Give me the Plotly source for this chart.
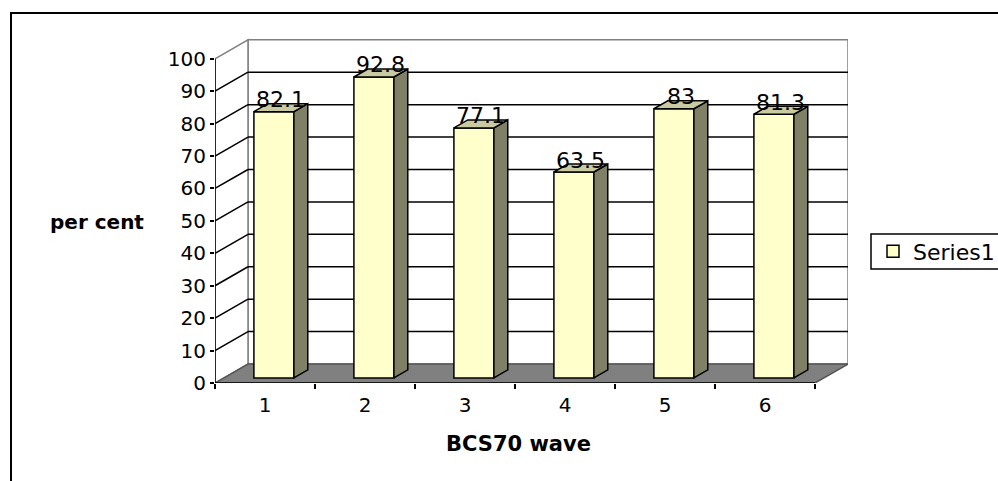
import plotly.graph_objects as go

# Data
waves = [1, 2, 3, 4, 5, 6]
wave_labels = ["1", "2", "3", "4", "5", "6"]
per_cent = [82.1, 92.8, 77.1, 63.5, 83, 81.3]
value_ticks = [0, 10, 20, 30, 40, 50, 60, 70, 80, 90, 100]
series_name = "Series1"

# Oblique 3-D projection: depth z in [0, 1] shifts x (category units) and y (value units)
DX = 0.33
DY = 5.85
Z0, Z1 = 0.27, 0.69       # bar front / back depth
HALF_W = 0.2              # half bar width, category units
X_LO, X_HI = 0.5, 6.5     # category axis extent (front plane)
Y_TOP = 100

FRONT = "#FFFFCC"
SIDE = "#808066"
TOP = "#CACAA2"
WALL_EDGE = "#808080"

# plot-area pixel frame, used to place paper-referenced items
PL, PR, PT, PB = 215, 848, 38, 383


def px_x(px):
    return (px - PL) / (PR - PL)


def px_y(py):
    return (PB - py) / (PB - PT)


fig = go.Figure()

# Side and top faces of the bars
side_x, side_y, top_x, top_y = [], [], [], []
for c, v in zip(waves, per_cent):
    xr0 = c + HALF_W + Z0 * DX
    xr1 = c + HALF_W + Z1 * DX
    xl0 = c - HALF_W + Z0 * DX
    xl1 = c - HALF_W + Z1 * DX
    side_x += [xr0, xr0, xr1, xr1, xr0, None]
    side_y += [Z0 * DY, v + Z0 * DY, v + Z1 * DY, Z1 * DY, Z0 * DY, None]
    top_x += [xl0, xr0, xr1, xl1, xl0, None]
    top_y += [v + Z0 * DY, v + Z0 * DY, v + Z1 * DY, v + Z1 * DY, v + Z0 * DY, None]

# Front faces as a real bar trace
fig.add_trace(go.Bar(
    x=[c + Z0 * DX for c in waves], y=per_cent, base=[Z0 * DY] * len(waves),
    width=2 * HALF_W, name=series_name,
    marker=dict(color=FRONT, line=dict(color="black", width=1.5)),
    hoverinfo="skip",
))
fig.add_trace(go.Scatter(
    x=side_x, y=side_y, mode="lines", fill="toself", fillcolor=SIDE,
    line=dict(color="black", width=1.5), showlegend=False, hoverinfo="skip",
))
fig.add_trace(go.Scatter(
    x=top_x, y=top_y, mode="lines", fill="toself", fillcolor=TOP,
    line=dict(color="black", width=1.5), showlegend=False, hoverinfo="skip",
))

shapes = []
# Back wall
shapes.append(dict(type="rect", xref="x", yref="y", layer="below",
                   x0=X_LO + DX, x1=X_HI + DX, y0=DY, y1=Y_TOP + DY,
                   fillcolor="white", line=dict(color=WALL_EDGE, width=1.5)))
# Left side wall
shapes.append(dict(type="path", xref="x", yref="y", layer="below",
                   path=f"M{X_LO},0 L{X_LO + DX},{DY} L{X_LO + DX},{Y_TOP + DY} L{X_LO},{Y_TOP} Z",
                   fillcolor="white", line=dict(color=WALL_EDGE, width=1.5)))
# Gridlines on back and side walls
for t in value_ticks[1:-1]:
    shapes.append(dict(type="line", xref="x", yref="y", layer="below",
                       x0=X_LO + DX, x1=X_HI + DX, y0=t + DY, y1=t + DY,
                       line=dict(color="black", width=1.5)))
    shapes.append(dict(type="line", xref="x", yref="y", layer="below",
                       x0=X_LO, x1=X_LO + DX, y0=t, y1=t + DY,
                       line=dict(color="black", width=1.5)))
# Floor
shapes.append(dict(type="path", xref="x", yref="y", layer="below",
                   path=f"M{X_LO},0 L{X_HI},0 L{X_HI + DX},{DY} L{X_LO + DX},{DY} Z",
                   fillcolor="#808080", line=dict(color="#555555", width=1.5)))
# Front axis lines
shapes.append(dict(type="line", xref="x", yref="y", layer="below",
                   x0=X_LO, x1=X_LO, y0=0, y1=Y_TOP, line=dict(color="black", width=1.5)))
shapes.append(dict(type="line", xref="x", yref="y", layer="below",
                   x0=X_LO, x1=X_HI, y0=0, y1=0, line=dict(color="black", width=1.5)))

# Outer chart-area frame (runs past the right and bottom page edges)
shapes.append(dict(type="rect", xref="paper", yref="paper",
                   x0=px_x(11), x1=px_x(1012), y0=px_y(13), y1=px_y(495),
                   line=dict(color="black", width=2)))
# Legend frame (also runs past the right page edge)
shapes.append(dict(type="rect", xref="paper", yref="paper",
                   x0=px_x(871), x1=px_x(1012), y0=px_y(234), y1=px_y(269),
                   line=dict(color="black", width=1.5)))

# Value labels on the bar tops
annotations = []
for c, v in zip(waves, per_cent):
    zc = (Z0 + Z1) / 2
    annotations.append(dict(x=c + zc * DX, y=v + zc * DY, xref="x", yref="y",
                            text=f"{v:g}", showarrow=False, yshift=8,
                            font=dict(family="DejaVu Sans", size=22, color="black")))
annotations.append(dict(x=px_x(145.5), y=px_y(221.5), xref="paper", yref="paper",
                        text="<b>per cent</b>", showarrow=False,
                        xanchor="right", yanchor="middle",
                        font=dict(family="DejaVu Sans", size=20, color="black")))
annotations.append(dict(x=px_x(518.5), y=px_y(444), xref="paper", yref="paper",
                        text="<b>BCS70 wave</b>", showarrow=False,
                        xanchor="center", yanchor="middle",
                        font=dict(family="DejaVu Sans", size=21, color="black")))

fig.update_layout(
    width=998, height=481,
    margin=dict(l=PL, r=998 - PR, t=PT, b=481 - PB, autoexpand=False),
    paper_bgcolor="white", plot_bgcolor="rgba(0,0,0,0)",
    shapes=shapes, annotations=annotations,
    showlegend=True,
    legend=dict(x=px_x(873), y=px_y(251.5), xanchor="left", yanchor="middle",
                borderwidth=0, bgcolor="rgba(0,0,0,0)",
                font=dict(family="DejaVu Sans", size=22, color="black")),
    xaxis=dict(range=[X_LO, X_HI + DX], tickvals=waves, ticktext=wave_labels,
               ticks="", showgrid=False, zeroline=False, showline=False,
               ticklabelstandoff=8,
               tickfont=dict(family="DejaVu Sans", size=20, color="black"),
               minor=dict(tick0=0.5, dtick=1, ticks="outside", ticklen=5,
                          tickcolor="black", tickwidth=1.5, showgrid=False),
               fixedrange=True),
    yaxis=dict(range=[0, 106.4], tickvals=value_ticks, ticks="outside", ticklen=4,
               tickcolor="black", tickwidth=1.5, showgrid=False, zeroline=False,
               showline=False,
               tickfont=dict(family="DejaVu Sans", size=20, color="black"),
               fixedrange=True),
    hovermode=False,
)

fig.write_html("out.html")
